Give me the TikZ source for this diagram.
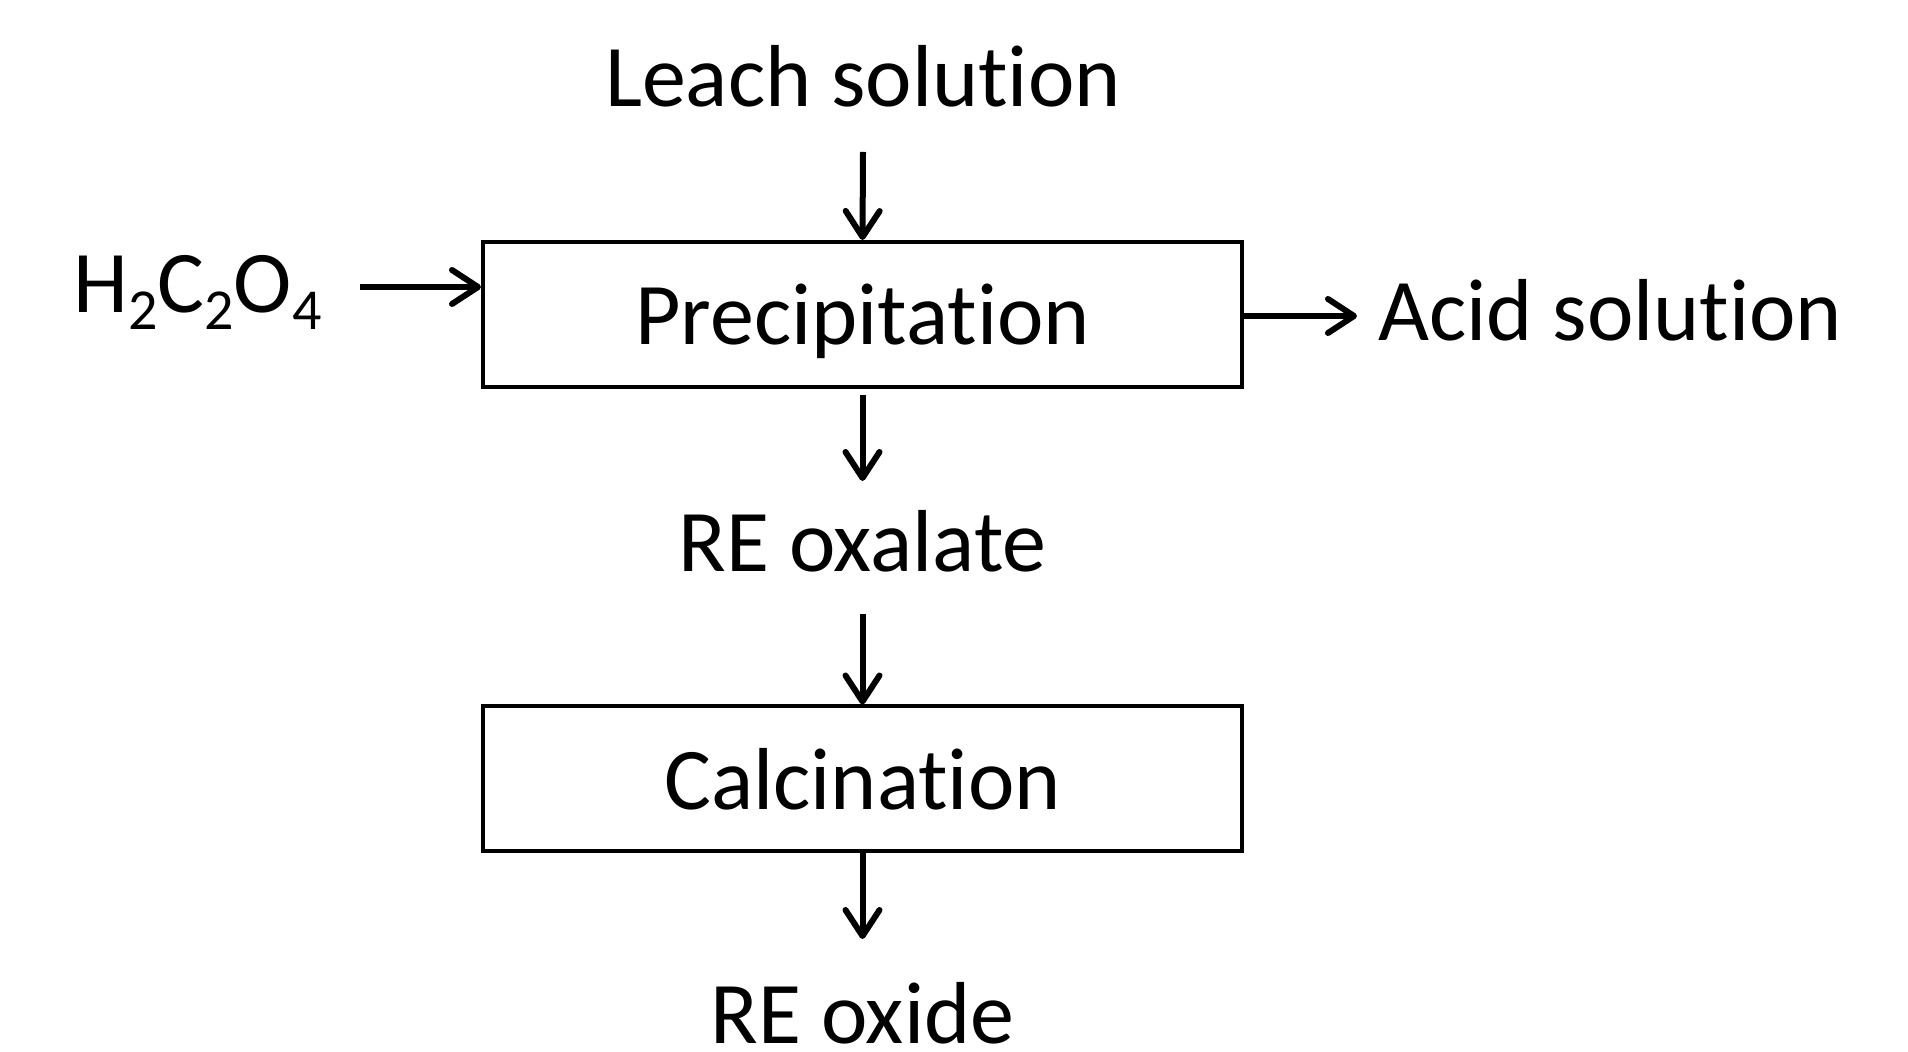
\documentclass[tikz,border=0pt]{standalone}
\usepackage{fontspec}
\setmainfont{Carlito}[Ligatures=NoCommon]
\usetikzlibrary{arrows.meta}
\newcommand\chsub[1]{\raisebox{-8.5pt}{\fontsize{29pt}{30pt}\selectfont #1}}
\begin{document}
\begin{tikzpicture}[x=0.5pt,y=-0.5pt,
  every node/.style={font=\fontsize{44pt}{50pt}\selectfont, inner sep=0pt},
  procbox/.style={draw, line width=2pt, minimum width=379.5pt, minimum height=72.5pt, text depth=0pt},
  arr/.style={line width=3pt, -{Straight Barb[length=13pt,width=17pt,round]}},
  lbl/.style={anchor=base}]
\useasboundingbox (0,0) rectangle (1908,1052);
\node[procbox] (prec) at (862.5,314.5) {Precipitation};
\node[procbox] (calc) at (862.5,779) {Calcination};
\node[lbl] (leach) at (863,107) {Leach solution};
\node[lbl, anchor=base west] (h2) at (73,313) {H\chsub{2}C\chsub{2}O\chsub{4}};
\node[lbl, anchor=base west] (acid) at (1378,341) {Acid solution};
\node[lbl] (oxal) at (862.5,572) {RE oxalate};
\node[lbl] (oxide) at (862.5,1044) {RE oxide};
\coordinate (hy) at (0,287);
\coordinate (ay) at (0,316);
\draw[arr] ([yshift=-22.5pt]leach.base) -- (prec.north);
\draw[arr] ([xshift=19pt]h2.east |- hy) -- (prec.west |- hy);
\draw[arr] (prec.east |- ay) -- ([xshift=-10.5pt]acid.west |- ay);
\draw[arr] ([yshift=-3pt]prec.south) -- ([yshift=45.5pt]oxal.base);
\draw[arr] ([yshift=-21pt]oxal.base) -- (calc.north);
\draw[arr] (calc.south) -- ([yshift=52.5pt]oxide.base);
\end{tikzpicture}
\end{document}
